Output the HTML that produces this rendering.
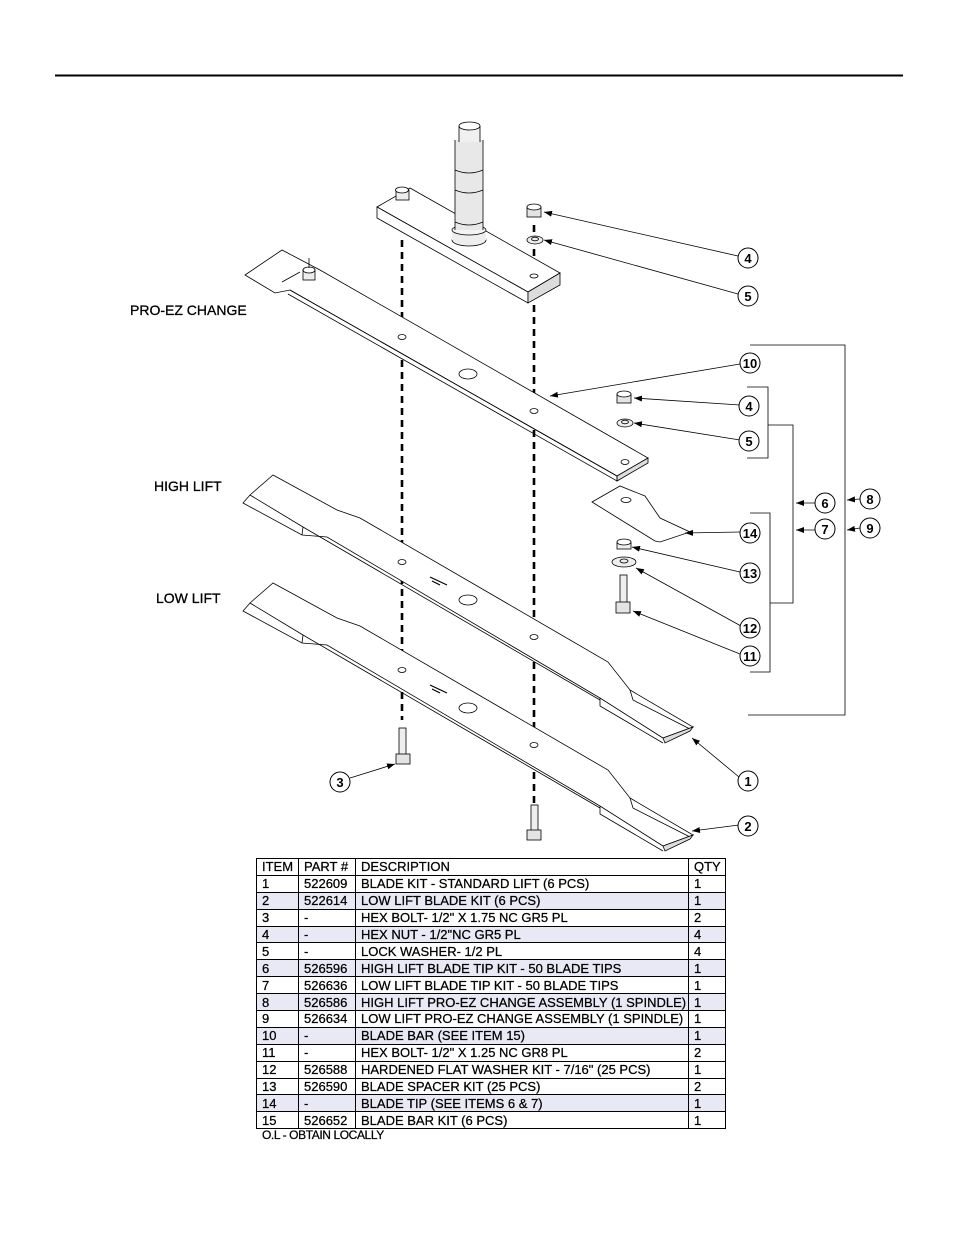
<!DOCTYPE html>
<html><head><meta charset="utf-8"><style>
body{margin:0;background:#fff;width:954px;height:1235px;position:relative;overflow:hidden;font-family:"Liberation Sans",Arial,sans-serif}
svg{position:absolute;left:0;top:0}
table{position:absolute;left:256px;top:858px;width:469px;table-layout:fixed;border-collapse:collapse;font-size:13px;color:#000;-webkit-text-stroke:0.25px #000}
td{border:1px solid #000;height:15.9px;padding:0 0 0 5px;line-height:15px;white-space:nowrap;overflow:visible}
tr.s td{background:#e9e9f5}
.ol{position:absolute;left:262px;top:1128px;font-size:12px;letter-spacing:-0.4px;-webkit-text-stroke:0.25px #000}
</style></head><body>
<svg width="954" height="1235" viewBox="0 0 954 1235" fill="none" stroke="#000" stroke-width="0.8" font-family="Liberation Sans, Arial, sans-serif">
<line x1="55" y1="75.5" x2="903" y2="75.5" stroke-width="2"/>
<defs><marker id="a" markerWidth="8" markerHeight="6" refX="8" refY="3" orient="auto" markerUnits="userSpaceOnUse"><path d="M0,0L8,3L0,6z" fill="#000" stroke="none"/></marker></defs>
<g stroke-width="2.6" stroke-dasharray="7,5">
<line x1="402" y1="240" x2="402" y2="335"/><line x1="402" y1="360" x2="402" y2="555"/><line x1="402" y1="565" x2="402" y2="665"/><line x1="402" y1="680" x2="402" y2="720"/>
<line x1="534" y1="225" x2="534" y2="275"/><line x1="534" y1="305" x2="534" y2="402"/><line x1="534" y1="418" x2="534" y2="630"/><line x1="534" y1="650" x2="534" y2="740"/><line x1="534" y1="760" x2="534" y2="812"/>
</g>
<polygon points="377,207 410,188 560,273 528,292" fill="#fff"/>
<polygon points="377,207 528,292 528,303 377,218" fill="#fff"/>
<polygon points="528,292 560,273 560,285 528,303" fill="#ddd"/>
<ellipse cx="469" cy="240" rx="17" ry="6" fill="#eee"/>
<rect x="452" y="230" width="34" height="10" fill="#eee" stroke="none"/>
<ellipse cx="469" cy="230" rx="17" ry="5" fill="#f4f4f4"/>
<rect x="455" y="140" width="28" height="90" fill="#e8e8e8" stroke="none"/>
<line x1="455" y1="140" x2="455" y2="230"/><line x1="483" y1="140" x2="483" y2="230"/>
<path d="M455,170 Q469,176 483,170 M455,190 Q469,196 483,190 M455,222 Q469,228 483,222"/>
<rect x="459" y="126" width="21" height="16" fill="#f0f0f0" stroke="none"/>
<line x1="459" y1="126" x2="459" y2="142"/><line x1="480" y1="126" x2="480" y2="142"/>
<ellipse cx="469.5" cy="126" rx="10.5" ry="4" fill="#fff"/>
<rect x="396" y="190" width="13" height="10" fill="#eee"/><ellipse cx="402" cy="190" rx="6.5" ry="3" fill="#fff"/>
<ellipse cx="534" cy="276" rx="4" ry="2"/>
<rect x="527" y="207" width="14" height="10" fill="#e4e4e4"/><ellipse cx="534" cy="207" rx="7" ry="3" fill="#fff"/>
<ellipse cx="535" cy="240" rx="8" ry="4" fill="#eee"/><ellipse cx="535" cy="239" rx="3.5" ry="1.8"/>
<polygon points="245,275 282,250 320,270 648,458 617,476 290,290 275,293" fill="#fff"/>
<polygon points="617,476 648,458 648,463 617,481" fill="#ddd"/>
<path d="M290,290 L617,476 L617,481 L288,294"/>
<line x1="282" y1="282" x2="300" y2="272"/>
<rect x="303" y="270" width="12" height="10" fill="#eee"/><ellipse cx="309" cy="270" rx="6" ry="3" fill="#fff"/><line x1="309" y1="258" x2="309" y2="268"/>
<ellipse cx="402" cy="337" rx="4" ry="2.5"/><ellipse cx="468" cy="374" rx="9" ry="5"/><ellipse cx="534" cy="411" rx="4" ry="2.5"/><ellipse cx="625" cy="462" rx="4" ry="2.5"/>
<g id="b">
<path d="M273,475 L337,510 L360,518 L608,662 L630,690 L693,727 L663,738 L600,698 L327,537 L302,535 L243,503 L250,495 Z" fill="#fff"/>
<path d="M250,495 L303,527 L302,535 M303,527 L600,700 M630,690 L633,700 L690,729 M600,698 L600,706 L663,743"/>
<polygon points="663,738 693,727 690,731 665,743" fill="#ddd"/>
<ellipse cx="402" cy="562" rx="4" ry="2.5"/><ellipse cx="468" cy="600" rx="9" ry="5"/><ellipse cx="534" cy="637" rx="4" ry="2.5"/>
<path d="M430,577 L447,585 M432,581 L440,585" stroke-width="1.2"/>
</g>
<use href="#b" transform="translate(0,108)"/>
<rect x="399" y="728" width="7" height="28" fill="#eee"/><rect x="396" y="754" width="14" height="10" fill="#e4e4e4"/>
<rect x="531" y="805" width="7" height="28" fill="#eee"/><rect x="527" y="830" width="14" height="10" fill="#e4e4e4"/>
<rect x="617" y="394" width="14" height="9" fill="#e4e4e4"/><ellipse cx="624" cy="394" rx="7" ry="3" fill="#fff"/>
<ellipse cx="625" cy="423" rx="8" ry="4" fill="#eee"/><ellipse cx="625" cy="422" rx="3.5" ry="1.8"/>
<path d="M592,502 L620,486 L645,496 L660,518 L690,532 L660,542 L655,541 Z" fill="#fff"/>
<ellipse cx="626" cy="500" rx="5" ry="2.5"/>
<rect x="617" y="542" width="14" height="7" fill="#eee"/><ellipse cx="624" cy="542" rx="7" ry="3" fill="#fff"/>
<ellipse cx="624" cy="562" rx="12" ry="5" fill="#eee"/><ellipse cx="624" cy="561" rx="4" ry="2"/>
<rect x="620" y="575" width="7" height="30" fill="#eee"/><rect x="616" y="602" width="14" height="11" fill="#e4e4e4"/>
<g marker-end="url(#a)">
<line x1="738" y1="256" x2="544" y2="212"/><line x1="738" y1="294" x2="544" y2="240"/>
<line x1="740" y1="364" x2="550" y2="396"/><line x1="740" y1="405" x2="634" y2="398"/><line x1="740" y1="440" x2="634" y2="423"/>
<line x1="740" y1="532" x2="685" y2="533"/><line x1="740" y1="572" x2="632" y2="547"/><line x1="741" y1="626" x2="636" y2="568"/><line x1="740" y1="654" x2="633" y2="611"/>
<line x1="739" y1="777" x2="692" y2="738"/><line x1="739" y1="825" x2="692" y2="831"/><line x1="350" y1="778" x2="395" y2="764"/>
<line x1="815" y1="503" x2="796" y2="503"/><line x1="815" y1="530" x2="796" y2="530"/>
<line x1="860" y1="499" x2="847" y2="500"/><line x1="860" y1="528" x2="847" y2="530"/>
</g>
<path d="M747,387 H768 V458 H747 M768,425 H793 V603 H770 M750,513 H770 V672 H750 M750,345 H845 V715 H748"/>
<g font-size="13" font-weight="bold" fill="#000" text-anchor="middle">
<g stroke-width="1"><circle cx="748" cy="258" r="10" fill="#fff"/><circle cx="748" cy="296" r="10" fill="#fff"/><circle cx="750" cy="363" r="10" fill="#fff"/><circle cx="749" cy="406" r="10" fill="#fff"/><circle cx="749" cy="441" r="10" fill="#fff"/><circle cx="825" cy="503" r="10" fill="#fff"/><circle cx="825" cy="529" r="10" fill="#fff"/><circle cx="870" cy="499" r="10" fill="#fff"/><circle cx="870" cy="528" r="10" fill="#fff"/><circle cx="750" cy="533" r="10" fill="#fff"/><circle cx="750" cy="573" r="10" fill="#fff"/><circle cx="750" cy="628" r="10" fill="#fff"/><circle cx="750" cy="656" r="10" fill="#fff"/><circle cx="748" cy="781" r="10" fill="#fff"/><circle cx="748" cy="826" r="10" fill="#fff"/><circle cx="340" cy="782" r="10" fill="#fff"/></g>
<g stroke="none"><text x="748" y="263">4</text><text x="748" y="301">5</text><text x="750" y="368">10</text><text x="749" y="411">4</text><text x="749" y="446">5</text><text x="825" y="508">6</text><text x="825" y="534">7</text><text x="870" y="504">8</text><text x="870" y="533">9</text><text x="750" y="538">14</text><text x="750" y="578">13</text><text x="750" y="633">12</text><text x="750" y="661">11</text><text x="748" y="786">1</text><text x="748" y="831">2</text><text x="340" y="787">3</text></g>
</g>
<g font-size="14" fill="#000" stroke="#000" stroke-width="0.3">
<text x="130" y="315">PRO-EZ CHANGE</text><text x="154" y="491">HIGH LIFT</text><text x="156" y="603">LOW LIFT</text>
</g>
</svg>
<table>
<colgroup><col style="width:42px"><col style="width:57px"><col style="width:333px"><col style="width:37px"></colgroup>
<tr><td>ITEM</td><td>PART #</td><td>DESCRIPTION</td><td>QTY</td></tr>
<tr><td>1</td><td>522609</td><td>BLADE KIT - STANDARD LIFT (6 PCS)</td><td>1</td></tr>
<tr class="s"><td>2</td><td>522614</td><td>LOW LIFT BLADE KIT (6 PCS)</td><td>1</td></tr>
<tr><td>3</td><td>-</td><td>HEX BOLT- 1/2" X 1.75 NC GR5 PL</td><td>2</td></tr>
<tr class="s"><td>4</td><td>-</td><td>HEX NUT - 1/2"NC GR5 PL</td><td>4</td></tr>
<tr><td>5</td><td>-</td><td>LOCK WASHER- 1/2 PL</td><td>4</td></tr>
<tr class="s"><td>6</td><td>526596</td><td>HIGH LIFT BLADE TIP KIT - 50 BLADE TIPS</td><td>1</td></tr>
<tr><td>7</td><td>526636</td><td>LOW LIFT BLADE TIP KIT - 50 BLADE TIPS</td><td>1</td></tr>
<tr class="s"><td>8</td><td>526586</td><td>HIGH LIFT PRO-EZ CHANGE ASSEMBLY (1 SPINDLE)</td><td>1</td></tr>
<tr><td>9</td><td>526634</td><td>LOW LIFT PRO-EZ CHANGE ASSEMBLY (1 SPINDLE)</td><td>1</td></tr>
<tr class="s"><td>10</td><td>-</td><td>BLADE BAR (SEE ITEM 15)</td><td>1</td></tr>
<tr><td>11</td><td>-</td><td>HEX BOLT- 1/2" X 1.25 NC GR8 PL</td><td>2</td></tr>
<tr><td>12</td><td>526588</td><td>HARDENED FLAT WASHER KIT - 7/16" (25 PCS)</td><td>1</td></tr>
<tr><td>13</td><td>526590</td><td>BLADE SPACER KIT (25 PCS)</td><td>2</td></tr>
<tr class="s"><td>14</td><td>-</td><td>BLADE TIP (SEE ITEMS 6 &amp; 7)</td><td>1</td></tr>
<tr><td>15</td><td>526652</td><td>BLADE BAR KIT (6 PCS)</td><td>1</td></tr>
</table>
<div class="ol">O.L - OBTAIN LOCALLY</div>
</body></html>
